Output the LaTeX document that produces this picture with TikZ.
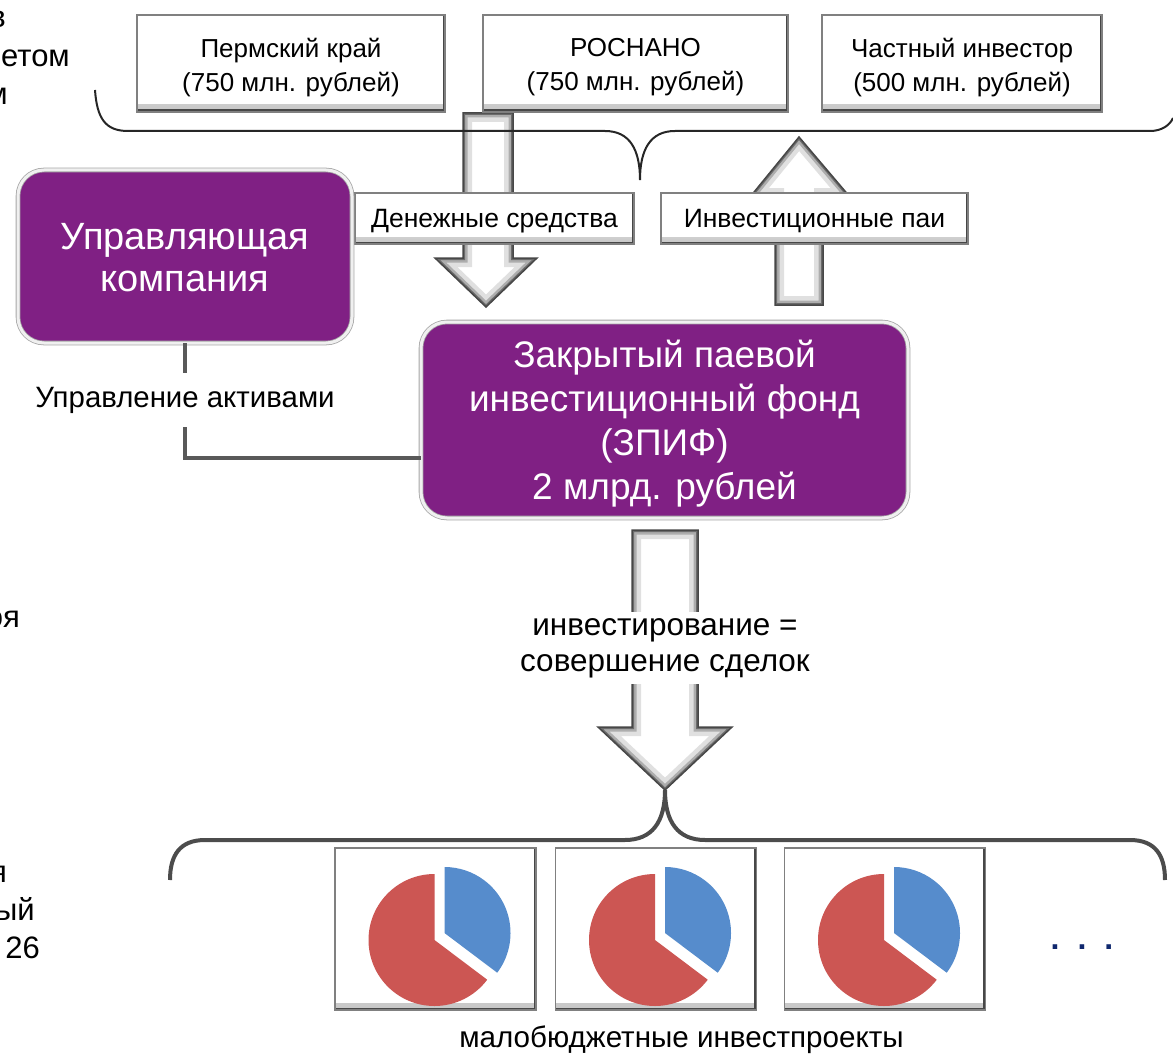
\documentclass[tikz,border=0pt]{standalone}
\usepackage{fontspec}
\setmainfont{Liberation Sans}
\usetikzlibrary{calc}
\definecolor{zpurple}{RGB}{128,32,132}
\definecolor{pred}{RGB}{204,86,83}
\definecolor{pblue}{RGB}{86,140,204}
\definecolor{dnavy}{RGB}{16,40,110}
\pgfdeclarehorizontalshading{bevelh}{100bp}{color(0bp)=(black!40); color(2bp)=(black!22); color(6bp)=(white); color(93bp)=(white); color(97bp)=(black!30); color(100bp)=(black!55)}
\pgfdeclareverticalshading{purpv}{100bp}{color(0bp)=(zpurple); color(86bp)=(zpurple); color(100bp)=(zpurple!60!white)}
\newcommand\hollowarrow[1]{%
  \fill[white] #1;
  \begin{scope}\clip #1;
    \draw[black!12,line width=18pt] #1;
    \draw[black!32,line width=9pt] #1;
    \draw[black!58,line width=4pt] #1;
  \end{scope}
  \draw[black!72,line width=1.5pt] #1;}
\tikzset{
  bevelbox/.style={rectangle, shading=bevelh, draw=black!50, line width=1.2pt,
    path picture={
      \shade[top color=white, bottom color=black!22] ([yshift=7pt]path picture bounding box.south west) rectangle (path picture bounding box.south east);
      \draw[black!72,line width=5pt] (path picture bounding box.north east) -- (path picture bounding box.south east) -- (path picture bounding box.south west);}},
  purplebox/.style={rectangle, rounded corners=26pt, shading=purpv, draw=black!35, double=black!6, double distance=3pt, line width=0.8pt},
  purpletext/.style={text=white, align=center},
  tbtext/.style={font=\fontsize{26}{34}\selectfont, align=center},
  lbtext/.style={font=\fontsize{26.5}{30}\selectfont, align=center},
  frag/.style={font=\fontsize{31}{38}\selectfont, anchor=base east, inner sep=0pt},
}
\begin{document}
\begin{tikzpicture}[x=1pt,y=-1pt]
\useasboundingbox (0,0) rectangle (1173,1054);

% left cut-off fragments (as cut in the reference)
\begin{scope}
\clip (0,0) rectangle (1173,1054);
\node[frag] (f1) at (6,28) {в};
\node[frag] (f2) at (70,67) {етом};
\node[frag] (f3) at (8,105) {м};
\node[frag] (f4) at (20,627) {оя};
\node[frag] (f5) at (7,882) {я};
\node[frag] (f6) at (35,920) {ый};
\node[frag] (f7) at (40,958) {26};
\end{scope}

% big hollow arrows
\hollowarrow{(463,113) -- (513,113) -- (513,258) -- (537,258) -- (486,307) -- (435,258) -- (463,258) -- cycle}
\hollowarrow{(799,137) -- (850,197) -- (823,197) -- (823,305) -- (775,305) -- (775,197) -- (750,197) -- cycle}
\hollowarrow{(632,530) -- (698,530) -- (698,727) -- (732,727) -- (665,790) -- (598,727) -- (632,727) -- cycle}

% braces
\draw[black!85, line width=2pt] (95,90) .. controls (97,118) and (105,131) .. (128,131) -- (605,131) .. controls (630,131) and (640,150) .. (640,180) .. controls (640,150) and (650,131) .. (675,131) -- (1150,131) .. controls (1162,131) and (1170,125) .. (1173,118);
\draw[black!70, line width=4pt] (170,880) .. controls (170,855) and (180,840) .. (205,840) -- (625,840) .. controls (652,840) and (665,822) .. (665,790) .. controls (665,822) and (678,840) .. (705,840) -- (1130,840) .. controls (1155,840) and (1165,855) .. (1165,880);

% top boxes
\node[bevelbox, minimum width=308, minimum height=97] (b1) at (291,63.5) {};
\node[tbtext] (t1) at ($(b1)+(0,4)$) {Пермский край\\(750 млн. рублей)};
\node[bevelbox, minimum width=305, minimum height=97] (b2) at (635.5,63.5) {};
\node[tbtext] (t2) at ($(b2)+(0,4)$) {РОСНАНО\\(750 млн. рублей)};
\node[bevelbox, minimum width=280, minimum height=97] (b3) at (962,63.5) {};
\node[tbtext] (t3) at ($(b3)+(0,4)$) {Частный инвестор\\(500 млн. рублей)};

% label boxes
\node[bevelbox, minimum width=279, minimum height=51] (ld) at (494.5,218.5) {};
\node[lbtext] (tld) at ($(ld)+(0,3)$) {Денежные средства};
\node[bevelbox, minimum width=307, minimum height=51] (lu) at (814.5,218.5) {};
\node[lbtext] (tlu) at ($(lu)+(0,3)$) {Инвестиционные паи};

% purple boxes
\node[purplebox, minimum width=334, minimum height=173] (uk) at (185,256.5) {};
\node[purpletext, font=\fontsize{38}{42}\selectfont] (tuk) at ($(uk)+(0,1)$) {Управляющая\\компания};
\node[purplebox, minimum width=487, minimum height=196] (zpif) at (664.5,420) {};
\node[purpletext, font=\fontsize{37}{44}\selectfont] (tzpif) at ($(zpif)+(0,4)$) {Закрытый паевой\\инвестиционный фонд\\(ЗПИФ)\\2 млрд. рублей};

% connector
\coordinate (cz) at (zpif.west |- 0,458);
\draw[black!65, line width=4.5pt] (uk.south) |- (cz);
\node[font=\fontsize{29.4}{36}\selectfont, fill=white, inner xsep=2pt, inner ysep=14pt] (ua) at (185,400) {Управление активами};

% investing label
\node[font=\fontsize{31.5}{36}\selectfont, align=center, fill=white, inner sep=6pt] (inv) at (665,648) {инвестирование =\\совершение сделок};

% pie boxes
\foreach \n/\cx in {p1/435.5, p2/656, p3/885}{
  \node[bevelbox, minimum width=201, minimum height=162] (\n) at (\cx,929) {};
  \begin{scope}[shift={($(\n.center)+(-1,11)$)}, yscale=-1]
    \fill[pred] (0,0) -- (90:66) arc[start angle=90, end angle=323, radius=66] -- cycle;
    \fill[pblue] (10,7) -- ++(-37:66) arc[start angle=-37, end angle=90, radius=66] -- cycle;
  \end{scope}
}
\node[font=\fontsize{32}{40}\selectfont\bfseries, text=dnavy, anchor=base, inner sep=0pt] (dots) at (1082,949) {.\hspace{18pt}.\hspace{18pt}.};

\node[font=\fontsize{29.6}{34}\selectfont] (mb) at (681.5,1040) {малобюджетные инвестпроекты};
\end{tikzpicture}
\end{document}
